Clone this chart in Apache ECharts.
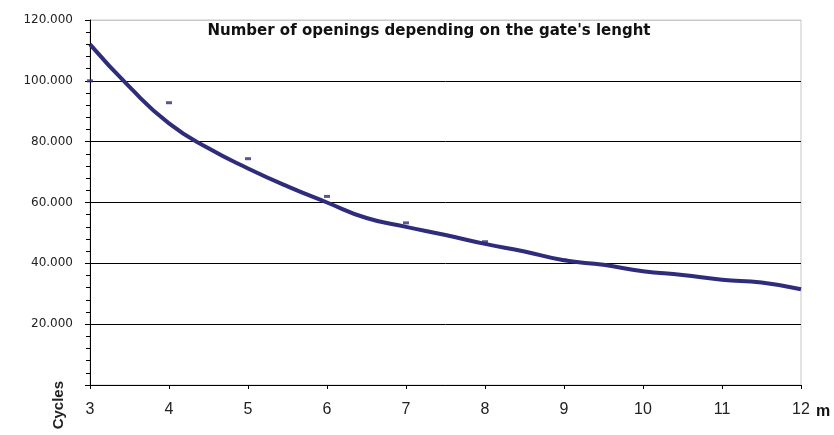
<!DOCTYPE html>
<html>
<head>
<meta charset="utf-8">
<script src="https://cdn.jsdelivr.net/npm/echarts@6/dist/echarts.min.js"></script>
<style>
html,body{margin:0;padding:0;background:#fff;}
#chart{width:834px;height:435px;}
</style>
</head>
<body>
<div id="chart"></div>
<script>
// gate length (m) and the fitted curve of openings
var lengths = [3, 3.5, 4, 4.5, 5, 5.5, 6, 6.5, 7, 7.5, 8, 8.5, 9, 9.5, 10, 10.5, 11, 11.5, 12];
var curve = [112000, 98000, 86000, 77800, 71200, 65300, 60000, 54900, 52000, 49300, 46400, 43900, 41000, 39500, 37400, 36200, 34600, 33700, 31500];
// measured points (small dashes)
var pointX = [3, 4, 5, 6, 7, 8, 9];
var pointY = [100000, 92800, 74400, 62000, 53300, 47100, 41100];
var yTicks = [0, 20000, 40000, 60000, 80000, 100000, 120000];

var chart = echarts.init(document.getElementById('chart'));
var navy = '#2F2C7C';
var font = 'Liberation Sans, Arial, sans-serif';

function pairs(xs, ys) {
    var out = [];
    for (var i = 0; i < xs.length; i++) out.push([xs[i], ys[i]]);
    return out;
}
function fmt(v) {
    if (v === 0) return '';
    var s = String(v);
    return s.slice(0, s.length - 3) + '.' + s.slice(s.length - 3);
}
// black gridlines, the top one is the light plot border
var gridColors = yTicks.map(function (v, i) {
    return i === yTicks.length - 1 ? '#c8c8c8' : '#000';
});

var option = {
    animation: false,
    backgroundColor: '#fff',
    title: {
        text: "Number of openings depending on the gate's lenght",
        left: 424,
        textAlign: 'center',
        top: 19,
        textStyle: {fontFamily: 'DejaVu Sans', fontSize: 15, fontWeight: 'bold', color: '#111'}
    },
    grid: {left: 90, right: 33, top: 20, bottom: 50, show: true, borderColor: '#c8c8c8', borderWidth: 1},
    xAxis: {
        type: 'value',
        min: 3, max: 12, interval: 1,
        axisLine: {lineStyle: {color: '#000', width: 1}},
        axisTick: {show: true, length: 4, lineStyle: {color: '#000'}},
        axisLabel: {fontFamily: font, fontSize: 16, color: '#222', margin: 17},
        splitLine: {show: false}
    },
    yAxis: {
        type: 'value',
        min: yTicks[0], max: yTicks[yTicks.length - 1], interval: 20000,
        axisLine: {show: true, lineStyle: {color: '#000', width: 1}},
        axisTick: {show: true, length: 5, lineStyle: {color: '#000'}},
        minorTick: {show: true, splitNumber: 5, length: 4, lineStyle: {color: '#000'}},
        axisLabel: {fontFamily: 'DejaVu Sans', fontSize: 12, color: '#222', margin: 17, formatter: fmt},
        splitLine: {show: true, lineStyle: {color: gridColors, width: 1}}
    },
    series: [
        {
            type: 'line',
            data: pairs(lengths, curve),
            smooth: true,
            showSymbol: false,
            lineStyle: {color: navy, width: 4},
            z: 3
        },
        {
            type: 'scatter',
            data: pairs(pointX, pointY),
            symbol: 'rect',
            symbolSize: [6, 3],
            itemStyle: {color: navy},
            z: 4
        }
    ],
    graphic: [
        {
            type: 'text', left: 51, top: 381, rotation: Math.PI / 2,
            style: {text: 'Cycles', font: 'bold 15px ' + font, fill: '#222'}
        },
        {
            type: 'text', left: 816, top: 404,
            style: {text: 'm', font: 'bold 16px ' + font, fill: '#111'}
        }
    ]
};
chart.setOption(option);
window.onresize = chart.resize;
</script>
</body>
</html>
